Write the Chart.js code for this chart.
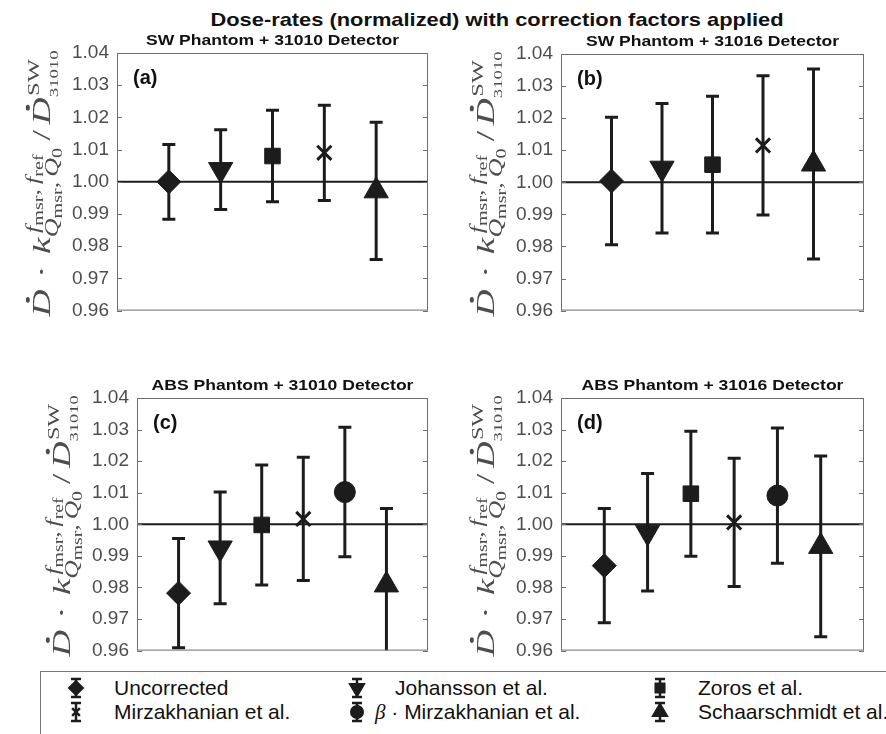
<!DOCTYPE html>
<html>
<head>
<meta charset="utf-8">
<script src="https://cdn.jsdelivr.net/npm/chart.js"></script>
<style>
  html, body { margin: 0; padding: 0; background: #fff; }
  body { width: 886px; height: 734px; position: relative; overflow: hidden;
         font-family: "Liberation Sans", Arial, Helvetica, sans-serif; }
  canvas.panel { position: absolute; }
  #title { position: absolute; left: 497px; top: 9px; transform: translateX(-50%) scaleX(1.15);
           white-space: nowrap; font-weight: bold; font-size: 19px; color: #111; }
  #legend { position: absolute; left: 40px; top: 671px; width: 900px; height: 62px;
            border: 1px solid #777; background: #fff; }
  .item { position: absolute; font-size: 21px; color: #111; white-space: nowrap; line-height: 24px; }
  .item canvas { position: absolute; left: -48px; top: 1px; }
  .beta { font-family: "Liberation Serif", "DejaVu Serif", serif; font-style: italic; }
</style>
</head>
<body>
<div id="title">Dose-rates (normalized) with correction factors applied</div>
<canvas class="panel" id="pa"></canvas>
<canvas class="panel" id="pb"></canvas>
<canvas class="panel" id="pc"></canvas>
<canvas class="panel" id="pd"></canvas>
<div id="legend"></div>
<script>
// axis settings
const Y_MIN = 0.96, Y_MAX = 1.04, Y_STEP = 0.01;
const REF_VALUE = 1.00;

// correction methods, in plotting order
const methodNames = ['Uncorrected', 'Johansson et al.', 'Zoros et al.',
  'Mirzakhanian et al.', 'β · Mirzakhanian et al.', 'Schaarschmidt et al.'];
const swMethods = [0, 1, 2, 3, 5];
const absMethods = [0, 1, 2, 3, 4, 5];

const panelTitles = ['SW Phantom + 31010 Detector', 'SW Phantom + 31016 Detector',
  'ABS Phantom + 31010 Detector', 'ABS Phantom + 31016 Detector'];
const panelLetters = ['(a)', '(b)', '(c)', '(d)'];

// normalized dose-rates and uncertainties
const sw31010 = [1.0000, 1.0038, 1.0080, 1.0090, 0.9972];
const sw31010Err = [0.0116, 0.0124, 0.0142, 0.0148, 0.0213];
const sw31016 = [1.0004, 1.0044, 1.0055, 1.0115, 1.0057];
const sw31016Err = [0.0199, 0.0202, 0.0213, 0.0217, 0.0296];
const abs31010 = [0.9782, 0.9925, 0.9998, 1.0017, 1.0102, 0.9808];
const abs31010Err = [0.0173, 0.0177, 0.0190, 0.0195, 0.0205, 0.0242];
const abs31016 = [0.9869, 0.9975, 1.0097, 1.0006, 1.0091, 0.9930];
const abs31016Err = [0.0181, 0.0186, 0.0198, 0.0203, 0.0214, 0.0286];

// marker look per method
const markerStyle = ['rectRot', 'triangle', 'rect', 'crossRot', 'circle', 'triangle'];
const markerRotation = [0, 180, 0, 0, 0, 0];
const markerRadius = [12, 14, 11, 10, 10.5, 14];

const INK = '#1c1c1c';
const GREY = '#4d4d4d';
const SANS = '"Liberation Sans", Arial, Helvetica, sans-serif';
const SERIF = '"Liberation Serif", "DejaVu Serif", serif';

// y label: D-dot . k_{Q_msr,Q_0}^{f_msr,f_ref} / D-dot_{31010}^{SW}
function drawYLabel(ctx, bx, cy, length) {
  const M = 26;
  const it = s => 'italic ' + s + 'px ' + SERIF;
  const rm = s => s + 'px ' + SERIF;
  const parts = [
    { t: 'D', f: it(M), dot: true },
    { gap: 8 }, { t: '·', f: rm(M) }, { gap: 8 },
    { t: 'k', f: it(M) },
    { sup: [['f', it(18), 0], ['msr', rm(14), 4], [',', rm(18), 0], [' ', rm(14), 0], ['f', it(18), 0], ['ref', rm(14), 4]],
      sub: [['Q', it(18), 0], ['msr', rm(14), 4], [',', rm(18), 0], [' ', rm(14), 0], ['Q', it(18), 0], ['0', rm(14), 4]],
      supShift: 3, supDy: -11, subDy: 8 },
    { gap: 4 }, { t: '/', f: rm(M) }, { gap: 4 },
    { t: 'D', f: it(M), dot: true },
    { sup: [['SW', rm(17), 0]], sub: [['31010', rm(13), 0]], supShift: 1, supDy: -11, subDy: 8 }
  ];
  const runWidth = run => run.reduce((w, r) => { ctx.font = r[1]; return w + ctx.measureText(r[0]).width; }, 0);
  const widths = parts.map(p => {
    if (p.gap) return p.gap;
    if (p.t) { ctx.font = p.f; return ctx.measureText(p.t).width; }
    return Math.max(runWidth(p.sup) + p.supShift, runWidth(p.sub)) + 1;
  });
  const total = widths.reduce((a, b) => a + b, 0);
  ctx.save();
  ctx.translate(bx, cy);
  ctx.rotate(-Math.PI / 2);
  ctx.scale(length / total, 1);
  ctx.fillStyle = GREY;
  ctx.textBaseline = 'alphabetic';
  ctx.textAlign = 'left';
  let x = -total / 2;
  const drawRun = (run, x0, dy) => {
    let xx = x0;
    run.forEach(r => {
      ctx.font = r[1];
      ctx.fillText(r[0], xx, dy + r[2]);
      xx += ctx.measureText(r[0]).width;
    });
  };
  parts.forEach((p, i) => {
    if (p.t) {
      ctx.font = p.f;
      ctx.fillText(p.t, x, 0);
      if (p.dot) {
        ctx.beginPath();
        ctx.arc(x + widths[i] * 0.62, -M * 0.66 - 5, 2, 0, Math.PI * 2);
        ctx.fill();
      }
    } else if (p.sup) {
      drawRun(p.sup, x + p.supShift, p.supDy);
      drawRun(p.sub, x, p.subDy);
    }
    x += widths[i];
  });
  ctx.restore();
}

function stretchedText(ctx, text, x, y, sx) {
  ctx.save();
  ctx.translate(x, y);
  ctx.scale(sx, 1);
  ctx.fillText(text, 0, 0);
  ctx.restore();
}

function makeDecor(idx, values, errors) {
  return {
    id: 'decor' + idx,
    beforeDatasetsDraw(chart) {
      const { ctx, chartArea: a, scales: { x, y } } = chart;
      ctx.save();
      ctx.beginPath();
      ctx.rect(a.left, a.top, a.width, a.height);
      ctx.clip();
      ctx.strokeStyle = INK;
      const yr = y.getPixelForValue(REF_VALUE);
      ctx.lineWidth = 2;
      ctx.beginPath();
      ctx.moveTo(a.left, yr);
      ctx.lineTo(a.right, yr);
      ctx.stroke();
      ctx.lineWidth = 3;
      values.forEach((v, i) => {
        const px = x.getPixelForValue(i + 1);
        const hi = y.getPixelForValue(v + errors[i]);
        const lo = y.getPixelForValue(v - errors[i]);
        ctx.beginPath();
        ctx.moveTo(px, hi); ctx.lineTo(px, lo);
        ctx.moveTo(px - 6.5, hi); ctx.lineTo(px + 6.5, hi);
        ctx.moveTo(px - 6.5, lo); ctx.lineTo(px + 6.5, lo);
        ctx.stroke();
      });
      ctx.restore();
    },
    afterDraw(chart) {
      const { ctx, chartArea: a, scales: { y } } = chart;
      ctx.save();
      // axes box with inward ticks
      ctx.strokeStyle = '#6e6e6e';
      ctx.lineWidth = 1;
      ctx.strokeRect(a.left + 0.5, a.top + 0.5, a.width - 1, a.height - 1);
      ctx.beginPath();
      y.ticks.forEach(t => {
        const py = Math.round(y.getPixelForValue(t.value)) + 0.5;
        ctx.moveTo(a.left, py); ctx.lineTo(a.left + 5, py);
        ctx.moveTo(a.right - 5, py); ctx.lineTo(a.right, py);
      });
      ctx.stroke();
      // subplot title and letter
      ctx.fillStyle = '#111';
      ctx.textAlign = 'center';
      ctx.textBaseline = 'alphabetic';
      ctx.font = 'bold 15px ' + SANS;
      stretchedText(ctx, panelTitles[idx], (a.left + a.right) / 2, a.top - 8, 1.17);
      ctx.textAlign = 'left';
      ctx.font = 'bold 20px ' + SANS;
      ctx.fillText(panelLetters[idx], a.left + 16, a.top + 31);
      ctx.restore();
      drawYLabel(ctx, a.left - 67, (a.top + a.bottom) / 2 + 1, a.height + 10);
    }
  };
}

const panels = [
  { id: 'pa', values: sw31010, errors: sw31010Err, methods: swMethods,
    box: { left: 0, top: 0, width: 443, height: 330 }, pad: { left: 57, top: 53, right: 4, bottom: 18 } },
  { id: 'pb', values: sw31016, errors: sw31016Err, methods: swMethods,
    box: { left: 443, top: 0, width: 443, height: 330 }, pad: { left: 58, top: 54, right: 22, bottom: 17 } },
  { id: 'pc', values: abs31010, errors: abs31010Err, methods: absMethods,
    box: { left: 0, top: 330, width: 443, height: 340 }, pad: { left: 77, top: 68, right: 4, bottom: 13 } },
  { id: 'pd', values: abs31016, errors: abs31016Err, methods: absMethods,
    box: { left: 443, top: 330, width: 443, height: 340 }, pad: { left: 58, top: 68, right: 22, bottom: 13 } }
];

panels.forEach((p, idx) => {
  const cv = document.getElementById(p.id);
  cv.width = p.box.width; cv.height = p.box.height;
  cv.style.left = p.box.left + 'px'; cv.style.top = p.box.top + 'px';
  cv.style.width = p.box.width + 'px'; cv.style.height = p.box.height + 'px';
  const m = p.methods;
  new Chart(cv.getContext('2d'), {
    type: 'scatter',
    data: {
      datasets: [{
        data: p.values.map((v, i) => ({ x: i + 1, y: v })),
        pointStyle: m.map(k => markerStyle[k]),
        pointRotation: m.map(k => markerRotation[k]),
        pointRadius: m.map(k => markerRadius[k]),
        pointBorderWidth: m.map(k => markerStyle[k] === 'crossRot' ? 3 : 1),
        pointBackgroundColor: INK,
        pointBorderColor: INK,
        showLine: false
      }]
    },
    options: {
      responsive: false,
      animation: false,
      events: [],
      layout: { padding: p.pad },
      plugins: { legend: { display: false }, tooltip: { enabled: false } },
      scales: {
        x: { type: 'linear', min: 0, max: m.length + 1, display: false },
        y: {
          min: Y_MIN, max: Y_MAX,
          ticks: { stepSize: Y_STEP, callback: v => v.toFixed(2), color: GREY,
                   font: { size: 19, family: SANS }, padding: 8 },
          grid: { display: false, drawTicks: false },
          border: { display: false },
          afterFit: s => { s.width = 60; }
        }
      }
    },
    plugins: [makeDecor(idx, p.values, p.errors)]
  });
});

// legend: three columns, two rows
const legendPos = [[73, 4], [354, 4], [657, 4], [73, 28], [354, 28], [657, 28]];
const legend = document.getElementById('legend');
methodNames.forEach((name, k) => {
  const el = document.createElement('div');
  el.className = 'item';
  el.style.left = legendPos[k][0] + 'px';
  el.style.top = legendPos[k][1] + 'px';
  if (k === 4) {
    el.innerHTML = '<span class="beta">β</span> · Mirzakhanian et al.';
    el.style.left = (legendPos[k][0] - 20) + 'px';
  } else {
    el.textContent = name;
  }
  const ic = document.createElement('canvas');
  ic.width = 20; ic.height = 22;
  if (k === 4) ic.style.left = '-28px';
  el.appendChild(ic);
  legend.appendChild(el);
  const c = ic.getContext('2d');
  c.strokeStyle = INK; c.fillStyle = INK; c.lineWidth = 2.5;
  c.beginPath();
  c.moveTo(10, 2); c.lineTo(10, 20);
  c.moveTo(5, 2); c.lineTo(15, 2);
  c.moveTo(5, 20); c.lineTo(15, 20);
  c.stroke();
  Chart.helpers.drawPoint(c, {
    pointStyle: markerStyle[k], rotation: markerRotation[k],
    radius: markerRadius[k] * 0.55, borderWidth: markerStyle[k] === 'crossRot' ? 2 : 1
  }, 10, 11);
});
</script>
</body>
</html>
